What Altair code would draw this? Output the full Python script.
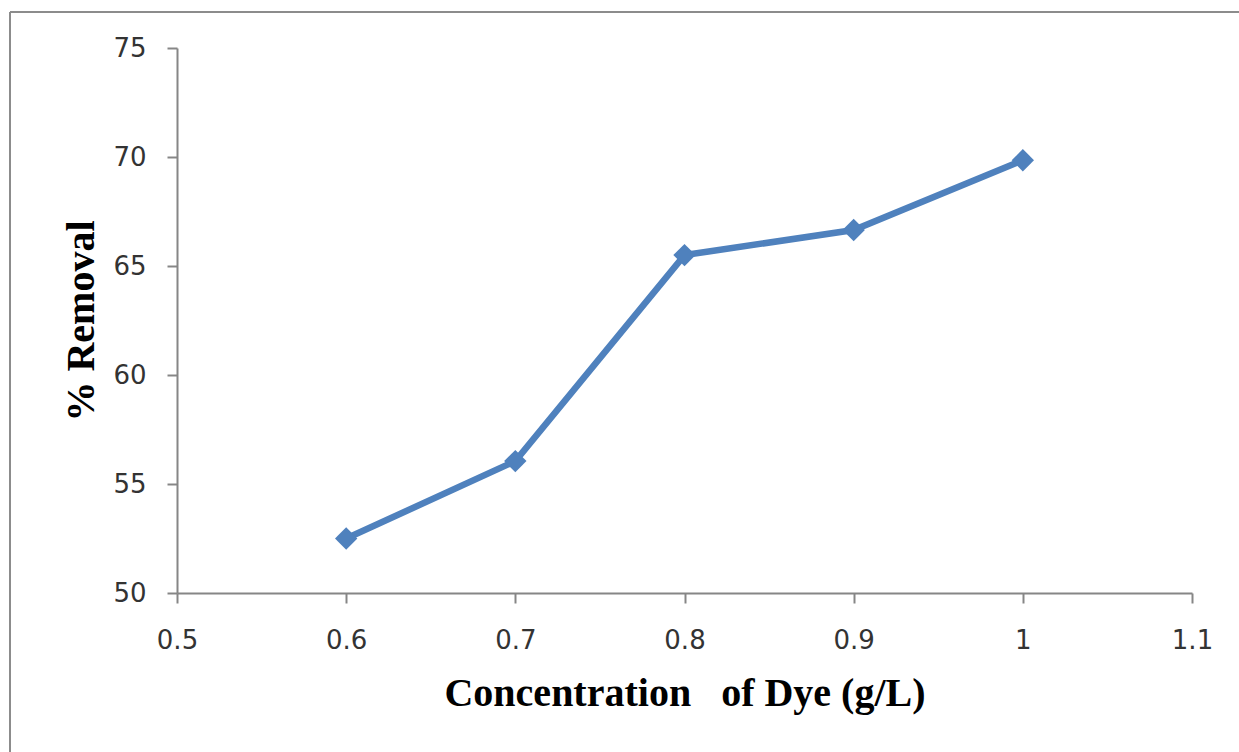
import altair as alt
import pandas as pd

concentration = [0.6, 0.7, 0.8, 0.9, 1.0]
removal = [52.5, 56.05, 65.5, 66.65, 69.85]
x_ticks = [0.5, 0.6, 0.7, 0.8, 0.9, 1.0, 1.1]
y_ticks = [50, 55, 60, 65, 70, 75]

df = pd.DataFrame({"conc": concentration, "removal": removal})

BLUE = "#4f81bd"
AXIS_GRAY = "#868686"

x_enc = alt.X(
    "conc:Q",
    scale=alt.Scale(domain=[0.5, 1.1], nice=False, zero=False),
    axis=alt.Axis(
        values=x_ticks,
        format="~g",
        title="Concentration\u00a0\u00a0 of Dye (g/L)",
        titleFont="Liberation Serif",
        titleFontWeight="bold",
        titleFontSize=40,
        titleColor="#000000",
        titleBaseline="alphabetic",
        titleY=112,
        labelFont="DejaVu Sans",
        labelFontSize=26,
        labelColor="#333333",
        labelBaseline="alphabetic",
        labelPadding=45,
        tickSize=10,
        tickColor=AXIS_GRAY,
        tickWidth=2,
        domainColor=AXIS_GRAY,
        domainWidth=2,
        grid=False,
        labelFlush=False,
        labelOverlap=False,
    ),
)
y_enc = alt.Y(
    "removal:Q",
    scale=alt.Scale(domain=[50, 75], nice=False, zero=False),
    axis=alt.Axis(
        values=y_ticks,
        title="% Removal",
        titleFont="Liberation Serif",
        titleFontWeight="bold",
        titleFontSize=40,
        titleColor="#000000",
        titleBaseline="alphabetic",
        titleX=-84,
        labelFont="DejaVu Sans",
        labelFontSize=26,
        labelColor="#333333",
        labelPadding=21,
        tickSize=10,
        tickColor=AXIS_GRAY,
        tickWidth=2,
        domainColor=AXIS_GRAY,
        domainWidth=2,
        grid=False,
        labelFlush=False,
        labelOverlap=False,
    ),
)

line = alt.Chart(df).mark_line(color=BLUE, strokeWidth=6.5).encode(x=x_enc, y=y_enc)
points = alt.Chart(df).mark_point(
    shape="diamond", filled=True, color=BLUE, size=500, opacity=1
).encode(x="conc:Q", y="removal:Q")

frame_top = alt.Chart(df).mark_rule(color="#8c8c8c", strokeWidth=2, clip=False).encode(
    x=alt.value(-167), x2=alt.value(1062), y=alt.value(-36)
)
frame_left = alt.Chart(df).mark_rule(color="#8c8c8c", strokeWidth=2, clip=False).encode(
    x=alt.value(-167), y=alt.value(-36), y2=alt.value(704)
)

chart = (
    alt.layer(frame_top, frame_left, line, points)
    .properties(
        width=1015,
        height=545,
        autosize=alt.AutoSizeParams(type="none"),
        padding={"left": 177, "top": 48, "right": 47, "bottom": 159},
        background="white",
    )
    .configure_view(stroke=None)
)

chart.save("out.html", embed_options={"renderer": "svg", "actions": False})
